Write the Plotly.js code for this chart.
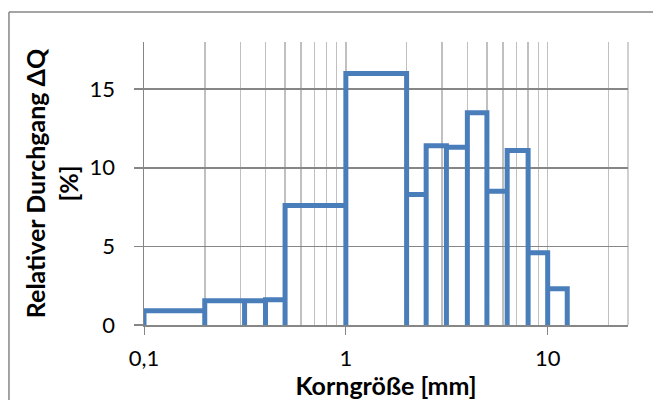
<!DOCTYPE html>
<html>
<head>
<meta charset="utf-8">
<script src="https://cdn.plot.ly/plotly-3.0.1.min.js"></script>
<style>html,body{margin:0;padding:0;background:#fff;}#chart{width:653px;height:400px;}</style>
</head>
<body>
<div id="chart"></div>
<script>
// Sieve class bounds (mm) and relative passing per class (%)
const classEdges = [0.1, 0.2, 0.315, 0.4, 0.5, 1, 2, 2.5, 3.15, 4, 5, 6.3, 8, 10, 12.5];
const classValues = [0.9, 1.55, 1.55, 1.6, 7.6, 16.0, 8.3, 11.4, 11.3, 13.5, 8.5, 11.1, 4.6, 2.3];
const xTickVals = [0.1, 1, 10];
const xTickText = ['0,1', '1', '10'];
const xMinorVals = [0.2,0.3,0.4,0.5,0.6,0.7,0.8,0.9,2,3,4,5,6,7,8,9,20];
const yTickVals = [0, 5, 10, 15];

// Step outline: each class drawn as an open box from the axis
const xs = [], ys = [];
for (let i = 0; i < classValues.length; i++) {
  xs.push(classEdges[i], classEdges[i], classEdges[i+1], classEdges[i+1]);
  ys.push(0, classValues[i], classValues[i], 0);
}

const trace = {
  x: xs, y: ys, type: 'scatter', mode: 'lines',
  line: {color: '#4a7ebb', width: 5},
  hoverinfo: 'skip', showlegend: false
};

const font = {family: 'Lato, "Open Sans", sans-serif', color: '#000'};
const layout = {
  width: 653, height: 400,
  margin: {l: 144, r: 25, t: 42, b: 75},
  paper_bgcolor: '#fff', plot_bgcolor: '#fff',
  separators: ',.',
  showlegend: false,
  font: font,
  xaxis: {
    type: 'log',
    range: [Math.log10(0.1), Math.log10(25)],
    tickmode: 'array', tickvals: xTickVals, ticktext: xTickText,
    ticks: 'outside', ticklen: 8, tickcolor: '#868686', tickwidth: 1,
    ticklabelstandoff: 5,
    tickfont: {family: font.family, size: 22, color: '#000'},
    showgrid: true, gridcolor: '#c0c0c0', gridwidth: 1.5,
    minor: {tickmode: 'array', tickvals: xMinorVals, showgrid: true, gridcolor: '#c0c0c0', gridwidth: 1.5, ticks: ''},
    showline: true, linecolor: '#868686', linewidth: 1.5,
    zeroline: false, fixedrange: true,
    title: {text: '<b>Korngröße [mm]</b>', font: {family: font.family, size: 25, color: '#000'}, standoff: 6}
  },
  yaxis: {
    range: [0, 18],
    tickmode: 'array', tickvals: yTickVals,
    ticks: 'outside', ticklen: 9, tickcolor: '#868686', tickwidth: 1.5,
    ticklabelstandoff: 14,
    tickfont: {family: font.family, size: 22, color: '#000'},
    showgrid: true, gridcolor: '#868686', gridwidth: 1.5,
    showline: true, linecolor: '#868686', linewidth: 1.5,
    zeroline: false, fixedrange: true,
    title: {text: '<b>Relativer Durchgang ΔQ<br>[%]</b>', font: {family: font.family, size: 25, color: '#000'}, standoff: 4}
  },
  shapes: [
    {type: 'line', xref: 'paper', yref: 'paper', x0: 1, x1: 1, y0: 0, y1: 1, line: {color: '#c0c0c0', width: 1.5}, layer: 'below'},
    {type: 'line', xref: 'paper', yref: 'paper', x0: -0.279, x1: 1.2, y0: 1.106, y1: 1.106, line: {color: '#868686', width: 1.5}},
    {type: 'line', xref: 'paper', yref: 'paper', x0: -0.279, x1: -0.279, y0: 1.106, y1: -0.4, line: {color: '#868686', width: 1.5}}
  ]
};

Plotly.newPlot('chart', [trace], layout, {displayModeBar: false, staticPlot: true});
</script>
</body>
</html>
